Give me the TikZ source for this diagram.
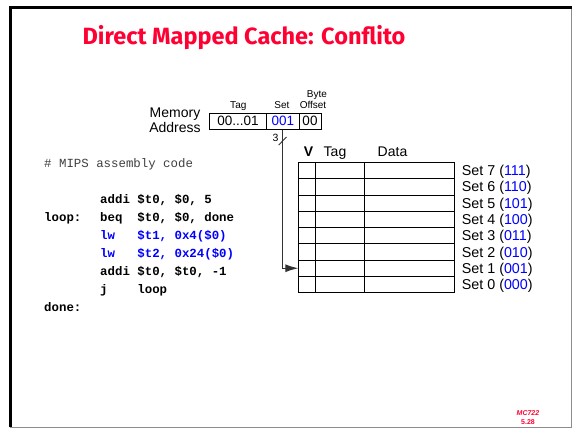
\documentclass[tikz,border=0pt]{standalone}
\usepackage{fontspec}
\setmainfont{Liberation Sans}
\newfontfamily\codefont{Liberation Mono}
\newfontfamily\titlefont{Fira Sans}
\usetikzlibrary{arrows.meta}
\definecolor{titlered}{RGB}{255,0,51}
\definecolor{setblue}{RGB}{0,0,255}
\newcommand{\fs}[1]{\fontsize{#1}{#1}\selectfont}
\begin{document}
\begin{tikzpicture}[x=1pt,y=-1pt,
  addrbox/.style={draw, line width=0.8pt, minimum height=16, inner sep=0, font=\fs{13.5}},
  smalllbl/.style={font=\fs{10}, inner sep=0, anchor=base},
  hdr/.style={font=\fs{14}, inner sep=0, anchor=base},
  setlbl/.style={font=\fs{14.3}, anchor=base west, inner sep=0},
  code/.style={font=\codefont\bfseries\fs{12.4}, anchor=west, inner sep=0},
  bluecode/.style={code, text=setblue},
  conn/.style={draw=black!80, line width=1.2pt, -{Latex[length=13pt,width=8pt]}},
  grid/.style={line width=0.8pt}
]
\useasboundingbox (0,0) rectangle (573,428);
\fill[white] (0,0) rectangle (573,428);
% frame
\draw[black!45, line width=1pt] (10,8) rectangle (571.5,427);
\draw[black, line width=3pt] (10,427) -- (10,8) -- (571.5,8);

% title
\node[text=titlered, font=\titlefont\bfseries\fs{23.5}] (title) at (244,38) {Direct Mapped Cache: Conflito};

% memory address
\node[font=\fs{14}, align=center, inner sep=0] (memaddr) at (175,120.5) {Memory\\[1pt]Address};
\node[addrbox, minimum width=57.4] (tagf) at (238,121.3) {00...01};
\node[addrbox, minimum width=32.3, text=setblue] (setf) at (282.85,121.3) {001};
\node[addrbox, minimum width=22] (offf) at (310,121.3) {00};
\node[smalllbl] (taglbl) at (238.3,108.3) {Tag};
\node[smalllbl] (setlbl) at (282,108.3) {Set};
\node[smalllbl] (offlbl) at (313,108.3) {Offset};
\node[smalllbl] (bytelbl) at (317,97.7) {Byte};

% cache table
\def\tl{298.3}\def\tr{454}\def\tt{162.3}\def\rh{16.3}
\draw[grid] (\tl,\tt) rectangle (\tr,\tt+8*\rh);
\foreach \i in {1,...,7} \draw[grid] (\tl,\tt+\i*\rh) -- (\tr,\tt+\i*\rh);
\draw[grid] (315.7,\tt) -- (315.7,\tt+8*\rh);
\draw[grid] (364,\tt) -- (364,\tt+8*\rh);
\node[hdr, font=\bfseries\fs{14}] (vh) at (308.5,156.5) {V};
\node[hdr] (tagh) at (335,156.5) {Tag};
\node[hdr] (datah) at (392.5,156.5) {Data};
\foreach \s/\b [count=\k from 0] in {7/111,6/110,5/101,4/100,3/011,2/010,1/001,0/000} {
  \coordinate (row\s) at (\tl,\tt+\k*\rh+0.5*\rh);
  \node[setlbl] (set\s) at (461.7,\tt+\k*\rh+0.5*\rh+5.2) {Set \s\ (\textcolor{setblue}{\b})};
}

% connector
\draw[conn] (setf.south) |- (row1);
\draw[black!80, line width=0.9pt] (278.7,145) -- (286.5,137);
\node[font=\fs{10.5}, inner sep=0] (three) at (275.5,137.5) {3};

% code
\node[code, font=\codefont\fs{12.4}, text=black!75] (cmt) at (44,164) {\# MIPS assembly code};
\node[code] (c1) at (100,200) {addi \$t0, \$0, 5};
\node[code] (l1) at (44,218) {loop:};
\node[code] (c2) at (100,218) {beq\ \ \$t0, \$0, done};
\node[bluecode] (c3) at (100,236) {lw\ \ \ \$t1, 0x4(\$0)};
\node[bluecode] (c4) at (100,254) {lw\ \ \ \$t2, 0x24(\$0)};
\node[code] (c5) at (100,272) {addi \$t0, \$t0, -1};
\node[code] (c6) at (100,290) {j\ \ \ \ loop};
\node[code] (l2) at (44,307.5) {done:};

% footer
\node[text=titlered, font=\bfseries\itshape\fs{7}, inner sep=0] (mc) at (528,413) {MC722};
\node[text=titlered, font=\bfseries\fs{7}, inner sep=0] (pg) at (528,422.5) {5.28};
\end{tikzpicture}
\end{document}
